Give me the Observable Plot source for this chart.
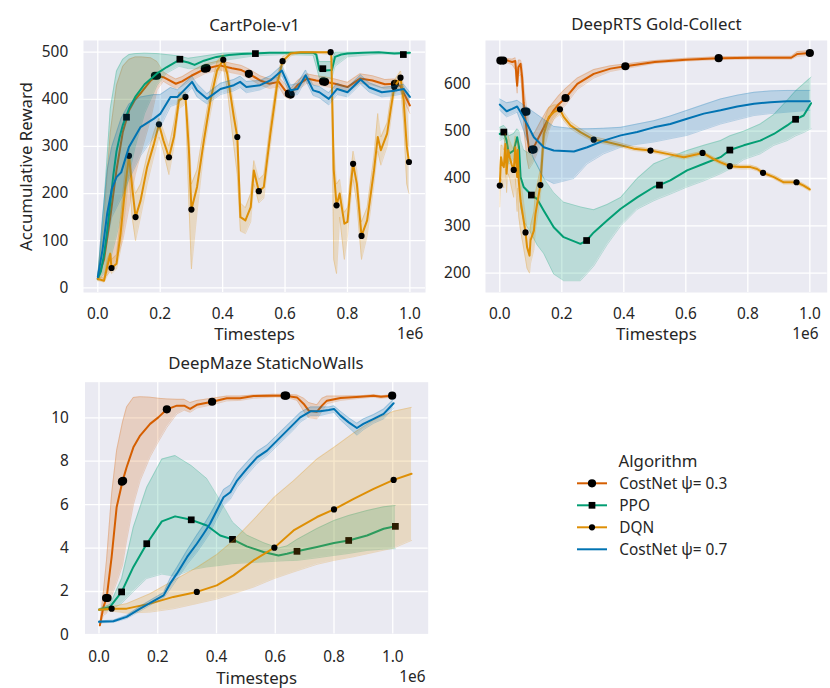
<!DOCTYPE html>
<html><head><meta charset="utf-8">
<script src="https://cdn.jsdelivr.net/npm/d3@7"></script>
<script src="https://cdn.jsdelivr.net/npm/@observablehq/plot@0.6"></script>
<style>
body{margin:0;background:#fff;}
#fig{position:relative;width:830px;height:688px;font-family:"Noto Sans","Open Sans",sans-serif;color:#262626;}
#fig > svg{position:absolute;left:0;top:0;}
</style></head><body><div id="fig"></div>
<script>
// ---------- shared ----------
const xTicks = [0, 0.2, 0.4, 0.6, 0.8, 1.0];
const algorithms = ["CostNet ψ= 0.3", "PPO", "DQN", "CostNet ψ= 0.7"];
const algColors = ["#D55E00", "#029E73", "#DE8F05", "#0173B2"];

// ---------- CartPole-v1 ----------
const cpYTicks = [0, 100, 200, 300, 400, 500];
const cp_cn3_x = [0,0.02,0.04,0.06,0.08,0.1,0.12,0.14,0.17,0.19,0.21,0.23,0.25,0.27,0.3,0.345,0.39,0.43,0.46,0.485,0.52,0.55,0.58,0.6,0.615,0.64,0.67,0.7,0.725,0.76,0.8,0.84,0.88,0.92,0.95,0.97,0.99,1.0];
const cp_cn3_y = [19,60,150,250,330,376,400,415,440,450,447,440,433,438,450,465,472,466,462,454,440,433,437,419,410,430,444,440,438,433,426,444,440,432,433,428,400,387];
const cp_cn3_lo = [15,20,35,60,100,170,240,290,360,420,438,430,423,428,440,455,462,456,452,444,430,423,427,405,400,420,434,430,428,423,416,434,430,422,423,418,385,370];
const cp_cn3_hi = [25,150,330,430,470,485,490,490,488,480,458,450,443,448,460,475,482,476,472,464,450,443,447,433,420,440,454,450,448,443,436,454,450,442,443,438,415,404];
const cp_cn3_mx = [0.183,0.19,0.343,0.349,0.484,0.612,0.618,0.722,0.728,0.952];
const cp_cn3_my = [450,450,465,466,454,412,410,438,437,433];

const cp_ppo_x = [0,0.01,0.02,0.03,0.04,0.05,0.06,0.07,0.08,0.09,0.1,0.12,0.15,0.19,0.22,0.26,0.29,0.31,0.34,0.38,0.42,0.46,0.5,0.55,0.6,0.65,0.69,0.70,0.71,0.73,0.75,0.76,0.78,0.8,0.85,0.9,0.95,1.0];
const cp_ppo_y = [19,35,70,120,180,240,290,320,345,362,380,405,432,455,468,483,478,473,482,490,494,496,497,499,499,499,499,495,462,461,462,490,495,497,499,500,497,499];
const cp_ppo_bx = [0,0.02,0.04,0.06,0.08,0.1,0.12,0.15,0.19,0.22,0.26,0.29,0.32,0.4,0.5,0.6,0.69,0.70,0.71,0.75,0.76,0.8,0.9,1.0];
const cp_ppo_lo = [15,30,60,110,170,240,300,370,430,455,470,465,465,482,492,495,493,470,445,445,470,490,496,496];
const cp_ppo_hi = [25,180,380,460,485,495,497,498,497,495,492,487,490,498,500,500,500,500,480,480,500,500,500,500];
const cp_ppo_mx = [0.092,0.263,0.505,0.721,0.979];
const cp_ppo_my = [362,485,497,465,495];

const cp_dqn_x = [0,0.02,0.03,0.04,0.044,0.06,0.073,0.089,0.1,0.11,0.121,0.137,0.158,0.18,0.196,0.21,0.228,0.244,0.26,0.281,0.292,0.3,0.318,0.34,0.361,0.382,0.402,0.415,0.436,0.447,0.457,0.473,0.49,0.5,0.516,0.532,0.553,0.575,0.592,0.618,0.65,0.7,0.748,0.756,0.765,0.775,0.79,0.8,0.81,0.818,0.83,0.845,0.863,0.885,0.897,0.907,0.927,0.938,0.95,0.97,0.98,0.99,0.997];
const cp_dqn_y = [19,15,44,72,42,51,115,221,280,214,150,185,256,306,347,313,277,320,398,405,292,166,214,313,398,461,484,454,362,320,150,143,171,249,205,214,327,433,481,497,500,500,500,250,175,200,136,140,214,263,221,110,143,249,320,292,327,376,426,446,398,300,267];
const cp_dqn_lo = [15,12,25,40,30,40,80,170,240,150,100,150,220,280,320,290,240,300,380,390,180,40,160,290,370,440,470,420,300,240,120,115,140,220,180,190,300,410,470,492,498,498,495,60,30,150,60,110,180,230,180,60,110,220,290,260,300,350,410,430,350,220,200];
const cp_dqn_hi = [25,20,60,75,60,70,150,260,300,240,200,220,280,330,360,335,300,350,415,415,350,220,250,340,420,480,495,470,390,350,180,170,200,270,230,240,350,450,490,500,501,501,501,300,220,230,160,170,240,290,250,140,170,280,370,320,350,400,440,460,430,380,300];
const cp_dqn_mx = [0.044,0.1,0.121,0.196,0.228,0.281,0.3,0.402,0.447,0.516,0.592,0.746,0.765,0.818,0.845,0.95,0.97,0.997];
const cp_dqn_my = [42,280,150,347,277,405,166,484,320,205,481,500,175,263,110,426,446,267];

const cp_cn7_x = [0,0.015,0.03,0.045,0.06,0.075,0.1,0.137,0.18,0.2,0.233,0.255,0.276,0.302,0.318,0.35,0.393,0.436,0.456,0.476,0.52,0.553,0.59,0.618,0.64,0.666,0.69,0.71,0.74,0.767,0.8,0.842,0.87,0.91,0.95,0.98,1.0];
const cp_cn7_y = [23,80,157,210,235,245,299,341,359,369,405,405,419,437,419,401,422,430,437,426,430,440,461,419,422,451,419,415,401,422,415,442,425,415,418,422,405];
const cp_cn7_lo = [20,50,100,150,170,190,230,280,320,340,385,390,405,425,405,390,410,418,425,414,420,430,450,408,410,440,408,403,388,410,405,432,415,405,408,412,395];
const cp_cn7_hi = [26,150,250,300,330,360,390,405,410,410,425,420,433,449,433,412,434,442,449,438,440,450,472,430,434,462,430,427,414,434,425,452,435,425,428,432,415];

// ---------- DeepRTS Gold-Collect ----------
const rtsYTicks = [200, 300, 400, 500, 600];
const rts_cn3_x = [0,0.011,0.025,0.04,0.05,0.056,0.06,0.067,0.072,0.077,0.08,0.088,0.094,0.104,0.115,0.131,0.153,0.174,0.19,0.212,0.25,0.303,0.357,0.405,0.5,0.6,0.706,0.82,0.94,0.96,1.0];
const rts_cn3_y = [649,649,649,646,648,596,635,642,614,560,541,494,463,461,473,494,522,544,557,570,600,621,632,637,646,651,654,655,655,663,665];
const rts_cn3_lo = [645,645,644,640,630,580,615,620,580,520,490,440,420,430,445,470,500,525,540,555,588,612,626,632,643,648,651,652,652,658,660];
const rts_cn3_hi = [653,653,653,652,655,620,650,650,640,600,580,545,510,490,500,520,545,562,575,590,612,630,638,642,649,654,657,658,658,668,670];
const rts_cn3_mx = [0.002,0.011,0.08,0.086,0.104,0.109,0.212,0.405,0.706,1.0];
const rts_cn3_my = [649,649,541,541,461,461,570,637,654,665];

const rts_ppo_x = [0,0.013,0.022,0.029,0.045,0.056,0.062,0.067,0.077,0.102,0.12,0.142,0.174,0.206,0.26,0.28,0.303,0.346,0.39,0.443,0.497,0.515,0.55,0.604,0.658,0.712,0.742,0.787,0.84,0.884,0.927,0.954,0.98,1.004];
const rts_ppo_y = [494,498,480,452,459,487,466,403,382,365,357,332,297,276,262,269,286,311,336,360,382,386,396,417,431,445,460,470,480,494,512,525,533,559];
const rts_ppo_lo = [480,485,460,430,440,460,420,340,310,283,260,241,198,184,184,198,215,260,300,335,353,358,367,382,395,410,420,440,452,470,480,490,497,505];
const rts_ppo_hi = [508,512,505,490,495,505,500,480,460,450,430,400,370,350,340,337,334,345,360,400,431,436,445,459,470,480,490,500,515,535,565,585,600,614];
const rts_ppo_mx = [0.013,0.102,0.28,0.515,0.742,0.954];
const rts_ppo_my = [498,365,269,386,460,525];

const rts_dqn_x = [0,0.004,0.008,0.013,0.018,0.022,0.027,0.032,0.038,0.045,0.05,0.056,0.058,0.061,0.067,0.083,0.088,0.096,0.099,0.11,0.115,0.131,0.142,0.158,0.174,0.194,0.206,0.228,0.26,0.303,0.346,0.39,0.432,0.486,0.54,0.594,0.637,0.654,0.69,0.712,0.742,0.776,0.809,0.83,0.849,0.884,0.916,0.957,0.98,1.0];
const rts_dqn_y = [385,445,430,424,473,410,460,445,430,418,466,403,460,396,353,286,255,237,269,290,325,386,494,530,540,546,530,512,498,482,477,470,463,459,452,445,451,454,441,434,426,424,424,420,412,403,392,392,385,377];
const rts_dqn_lo = [340,400,390,380,420,370,410,400,380,360,400,330,380,320,290,230,210,200,220,250,290,360,460,500,525,535,522,505,492,477,472,466,459,455,448,441,447,450,437,430,422,420,420,416,408,399,388,388,381,373];
const rts_dqn_hi = [420,470,470,460,495,450,490,480,470,460,490,440,480,440,400,320,290,270,300,330,370,420,520,550,555,556,540,520,505,488,482,475,467,463,456,449,455,458,445,438,430,428,428,424,416,407,396,396,389,381];
const rts_dqn_mx = [0,0.045,0.083,0.131,0.194,0.303,0.486,0.654,0.742,0.849,0.957];
const rts_dqn_my = [385,418,286,386,546,482,459,454,426,412,392];

const rts_cn7_x = [0,0.022,0.04,0.056,0.067,0.088,0.11,0.142,0.174,0.239,0.282,0.335,0.39,0.443,0.497,0.55,0.604,0.658,0.712,0.766,0.82,0.873,0.927,1.0];
const rts_cn7_y = [556,542,547,552,540,515,487,466,459,457,466,480,491,498,508,515,526,537,544,552,558,561,563,563];
const rts_cn7_lo = [544,530,535,540,520,480,440,400,389,400,431,452,466,472,477,484,491,503,515,524,533,537,540,544];
const rts_cn7_hi = [568,560,562,565,560,550,540,525,510,505,505,506,508,515,522,532,544,556,568,576,582,585,586,586];

// ---------- DeepMaze StaticNoWalls ----------
const mzYTicks = [0, 2, 4, 6, 8, 10];
const mz_cn3_x = [0.003,0.015,0.026,0.043,0.06,0.08,0.094,0.117,0.14,0.174,0.202,0.231,0.265,0.29,0.31,0.333,0.385,0.435,0.48,0.526,0.594,0.634,0.674,0.697,0.714,0.742,0.759,0.776,0.822,0.89,0.935,0.96,0.998];
const mz_cn3_y = [0.44,1.29,1.7,3.59,5.88,7.08,7.72,8.64,9.18,9.72,10.02,10.39,10.56,10.56,10.41,10.6,10.74,10.9,10.9,11.0,11.02,11.02,10.94,10.64,10.33,10.28,10.56,10.79,10.91,10.97,11.02,10.97,11.02];
const mz_cn3_lo = [0.4,0.9,1.0,1.8,2.4,3.2,4.35,6.0,7.1,8.2,8.9,9.56,10.18,10.35,10.25,10.45,10.6,10.78,10.8,10.9,10.95,10.95,10.8,10.3,10.0,9.95,10.3,10.65,10.8,10.9,10.95,10.9,10.95];
const mz_cn3_hi = [0.5,2.0,3.5,6.5,8.5,9.8,10.5,10.94,10.97,10.95,10.9,10.87,10.85,10.85,10.7,10.8,10.9,11.0,11.0,11.05,11.08,11.08,11.05,10.9,10.7,10.6,10.9,11.0,11.0,11.02,11.06,11.02,11.06];
const mz_cn3_mx = [0.024,0.029,0.078,0.082,0.231,0.385,0.632,0.637,0.998];
const mz_cn3_my = [1.7,1.7,7.06,7.1,10.39,10.74,11.02,11.02,11.02];

const mz_ppo_x = [0,0.0375,0.077,0.117,0.1625,0.214,0.259,0.314,0.367,0.4125,0.4545,0.503,0.56,0.611,0.64,0.674,0.742,0.8,0.85,0.9125,0.969,1.009];
const mz_ppo_y = [1.16,1.29,1.98,3.13,4.2,5.23,5.46,5.3,5.04,4.58,4.4,4.08,3.82,3.66,3.74,3.85,4.05,4.23,4.35,4.58,4.89,5.0];
const mz_ppo_lo = [1.12,1.13,1.45,2.0,2.6,2.8,2.7,3.0,3.13,3.2,3.28,3.32,3.36,3.4,3.42,3.43,3.55,3.66,3.75,3.89,3.95,3.97];
const mz_ppo_hi = [1.2,1.4,2.6,4.97,6.8,8.1,8.26,7.8,7.2,6.19,5.2,4.6,4.25,4.0,4.1,4.4,4.9,5.27,5.5,5.73,5.9,5.96];
const mz_ppo_mx = [0.077,0.1625,0.314,0.4545,0.674,0.85,1.009];
const mz_ppo_my = [1.98,4.2,5.3,4.4,3.85,4.35,5.0];

const mz_dqn_x = [0,0.043,0.094,0.174,0.253,0.333,0.401,0.458,0.526,0.597,0.6625,0.742,0.8,0.867,0.935,1.003,1.064];
const mz_dqn_y = [1.16,1.21,1.21,1.44,1.75,1.98,2.28,2.74,3.43,4.02,4.81,5.43,5.78,6.27,6.73,7.14,7.42];
const mz_dqn_lo = [1.13,1.1,1.0,1.05,1.2,1.44,1.65,1.9,2.2,2.6,2.9,3.25,3.43,3.6,3.8,4.0,4.35];
const mz_dqn_hi = [1.21,1.3,1.44,1.9,2.5,3.1,3.7,4.35,5.3,6.35,7.1,8.1,8.64,9.3,9.9,10.3,10.48];
const mz_dqn_mx = [0.043,0.333,0.597,0.8,1.003];
const mz_dqn_my = [1.21,1.98,4.02,5.78,7.14];

const mz_cn7_x = [0,0.049,0.094,0.14,0.185,0.22,0.242,0.265,0.3,0.333,0.356,0.378,0.401,0.424,0.447,0.47,0.503,0.538,0.572,0.606,0.64,0.663,0.685,0.72,0.753,0.782,0.8,0.822,0.85,0.878,0.9,0.935,0.969,1.003];
const mz_cn7_y = [0.6,0.63,0.83,1.21,1.56,1.82,2.36,2.82,3.59,4.2,4.66,5.12,5.73,6.34,6.57,7.11,7.65,8.18,8.49,8.95,9.41,9.72,10.02,10.3,10.3,10.36,10.41,10.1,9.79,9.53,9.72,9.95,10.18,10.67];
const mz_cn7_lo = [0.55,0.58,0.75,1.1,1.45,1.7,2.1,2.55,3.25,3.8,4.25,4.7,5.35,5.95,6.25,6.8,7.35,7.9,8.25,8.7,9.15,9.45,9.8,10.1,10.1,10.2,10.25,9.9,9.55,9.2,9.45,9.75,9.95,10.45];
const mz_cn7_hi = [0.65,0.68,0.9,1.32,1.68,1.95,2.6,3.1,3.9,4.6,5.05,5.55,6.1,6.7,6.9,7.45,7.95,8.45,8.75,9.2,9.65,9.95,10.25,10.5,10.5,10.5,10.55,10.3,10.0,9.75,9.95,10.15,10.4,10.85];

// ---------- builders ----------
const FONT = "'Noto Sans','Open Sans',sans-serif";
const TXT = "#262626";
const markerStyle = [
  {symbol: "circle", r: 4.1},
  {symbol: "square", r: 3.8},
  {symbol: "circle", r: 3.1},
  null
];
function mkSeries(k, x, y, bx, lo, hi, mx, my) {
  return {
    color: algColors[k], marker: markerStyle[k],
    line: x.map((v, i) => ({x: v, y: y[i]})),
    band: bx.map((v, i) => ({x: v, lo: lo[i], hi: hi[i]})),
    marks: mx ? mx.map((v, i) => ({x: v, y: my[i]})) : null
  };
}

function panel(cfg) {
  const marks = [
    Plot.frame({fill: "#EAEAF2", stroke: "none"}),
    Plot.gridX(xTicks, {stroke: "white", strokeOpacity: 1, strokeWidth: 1.3}),
    Plot.gridY(cfg.yTicks, {stroke: "white", strokeOpacity: 1, strokeWidth: 1.3})
  ];
  for (const s of cfg.series) {
    marks.push(Plot.areaY(s.band, {x: "x", y1: "lo", y2: "hi", fill: s.color, fillOpacity: 0.2}));
    marks.push(Plot.lineY(s.band, {x: "x", y: "lo", stroke: s.color, strokeOpacity: 0.22, strokeWidth: 1}));
    marks.push(Plot.lineY(s.band, {x: "x", y: "hi", stroke: s.color, strokeOpacity: 0.22, strokeWidth: 1}));
    marks.push(Plot.lineY(s.line, {x: "x", y: "y", stroke: s.color, strokeWidth: 2, strokeLinejoin: "round"}));
    if (s.marks) marks.push(Plot.dot(s.marks, {x: "x", y: "y", r: s.marker.r, symbol: s.marker.symbol, fill: "black", stroke: "none"}));
  }
  marks.push(Plot.text([cfg.title], {frameAnchor: "top", lineAnchor: "middle", textAnchor: "middle", dy: cfg.titleDy, dx: cfg.titleDx || 0, fontSize: 16.8, fill: TXT}));
  marks.push(Plot.text(["Timesteps"], {frameAnchor: "bottom", lineAnchor: "middle", textAnchor: "middle", dy: cfg.xlabDy, fontSize: 16.8, fill: TXT}));
  marks.push(Plot.text(["1e6"], {frameAnchor: "bottom-right", lineAnchor: "middle", textAnchor: "end", dx: cfg.offDx, dy: cfg.offDy, fontSize: 15.4, fill: TXT}));
  if (cfg.ylabel) marks.push(Plot.text([cfg.ylabel], {frameAnchor: "left", lineAnchor: "middle", textAnchor: "middle", rotate: -90, dx: -56.7, fontSize: 16.8, fill: TXT}));
  const f = cfg.frame;
  return Plot.plot({
    width: 830, height: 688,
    marginLeft: f.l, marginRight: 830 - f.r, marginTop: f.t, marginBottom: 688 - f.b,
    style: {background: "transparent", fontFamily: FONT, fontSize: "15.4px", color: TXT, overflow: "visible"},
    x: {domain: cfg.xDomain, ticks: xTicks, tickFormat: d3.format(".1f"), tickSize: 0, tickPadding: cfg.xPad, label: null},
    y: {domain: cfg.yDomain, ticks: cfg.yTicks, tickSize: 0, tickPadding: cfg.yPad, label: null},
    marks
  });
}

const fig = document.getElementById("fig");

fig.append(panel({
  title: "CartPole-v1", ylabel: "Accumulative Reward",
  frame: {l: 83, r: 425, t: 40, b: 292},
  xDomain: [-0.0458, 1.05], yDomain: [-10, 524.8], yTicks: cpYTicks,
  xPad: 15.4, yPad: 15.3, titleDy: -14.7, xlabDy: 42.6, offDx: -2.3, offDy: 41.3,
  series: [
    mkSeries(0, cp_cn3_x, cp_cn3_y, cp_cn3_x, cp_cn3_lo, cp_cn3_hi, cp_cn3_mx, cp_cn3_my),
    mkSeries(1, cp_ppo_x, cp_ppo_y, cp_ppo_bx, cp_ppo_lo, cp_ppo_hi, cp_ppo_mx, cp_ppo_my),
    mkSeries(2, cp_dqn_x, cp_dqn_y, cp_dqn_x, cp_dqn_lo, cp_dqn_hi, cp_dqn_mx, cp_dqn_my),
    mkSeries(3, cp_cn7_x, cp_cn7_y, cp_cn7_x, cp_cn7_lo, cp_cn7_hi, null, null)
  ]
}));

fig.append(panel({
  title: "DeepRTS Gold-Collect",
  frame: {l: 485, r: 826.7, t: 40, b: 292},
  xDomain: [-0.0461, 1.056], yDomain: [159.2, 691.4], yTicks: rtsYTicks,
  xPad: 15.4, yPad: 15, titleDy: -15.4, xlabDy: 42.6, offDx: -8.7, offDy: 41.3,
  series: [
    mkSeries(0, rts_cn3_x, rts_cn3_y, rts_cn3_x, rts_cn3_lo, rts_cn3_hi, rts_cn3_mx, rts_cn3_my),
    mkSeries(1, rts_ppo_x, rts_ppo_y, rts_ppo_x, rts_ppo_lo, rts_ppo_hi, rts_ppo_mx, rts_ppo_my),
    mkSeries(2, rts_dqn_x, rts_dqn_y, rts_dqn_x, rts_dqn_lo, rts_dqn_hi, rts_dqn_mx, rts_dqn_my),
    mkSeries(3, rts_cn7_x, rts_cn7_y, rts_cn7_x, rts_cn7_lo, rts_cn7_hi, null, null)
  ]
}));

fig.append(panel({
  title: "DeepMaze StaticNoWalls",
  frame: {l: 84.5, r: 427.7, t: 381.7, b: 633.4},
  xDomain: [-0.0477, 1.1207], yDomain: [0.046, 11.64], yTicks: mzYTicks,
  xPad: 17.5, yPad: 16.2, titleDy: -18.8, titleDx: 9.4, xlabDy: 45.1, offDx: -2.7, offDy: 43.3,
  series: [
    mkSeries(0, mz_cn3_x, mz_cn3_y, mz_cn3_x, mz_cn3_lo, mz_cn3_hi, mz_cn3_mx, mz_cn3_my),
    mkSeries(1, mz_ppo_x, mz_ppo_y, mz_ppo_x, mz_ppo_lo, mz_ppo_hi, mz_ppo_mx, mz_ppo_my),
    mkSeries(2, mz_dqn_x, mz_dqn_y, mz_dqn_x, mz_dqn_lo, mz_dqn_hi, mz_dqn_mx, mz_dqn_my),
    mkSeries(3, mz_cn7_x, mz_cn7_y, mz_cn7_x, mz_cn7_lo, mz_cn7_hi, null, null)
  ]
}));

// ---------- legend ----------
const leg = d3.create("svg").attr("width", 830).attr("height", 688)
  .style("font-family", FONT).style("pointer-events", "none");
leg.append("text").attr("x", 658).attr("y", 466.7).attr("text-anchor", "middle")
  .attr("font-size", 16.8).attr("fill", TXT).text("Algorithm");
algorithms.forEach((name, i) => {
  const base = 489.3 + i * 22;
  const cy = base - 6;
  const g = leg.append("g");
  g.append("line").attr("x1", 577).attr("x2", 607).attr("y1", cy).attr("y2", cy)
    .attr("stroke", algColors[i]).attr("stroke-width", 2);
  const m = markerStyle[i];
  if (m) {
    const sym = m.symbol === "square" ? d3.symbolSquare : d3.symbolCircle;
    g.append("path").attr("transform", `translate(592,${cy})`)
      .attr("d", d3.symbol(sym, Math.PI * m.r * m.r)()).attr("fill", "black");
  }
  g.append("text").attr("x", 619.3).attr("y", base).attr("font-size", 15.4).attr("fill", TXT).text(name);
});
fig.append(leg.node());
</script>
</body></html>
